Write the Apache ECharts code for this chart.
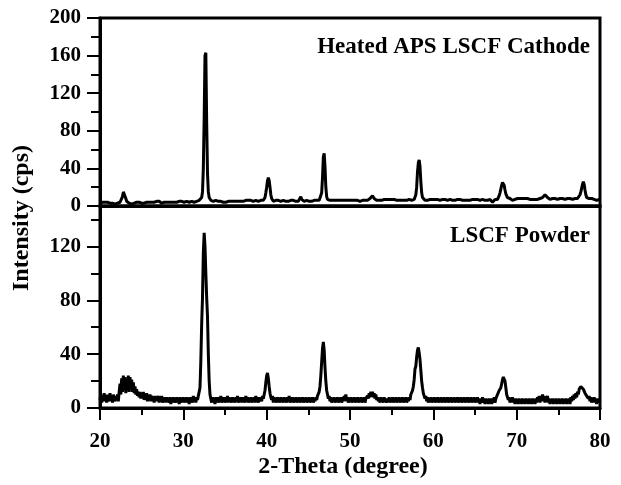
<!DOCTYPE html>
<html>
<head>
<meta charset="utf-8">
<script src="https://cdn.jsdelivr.net/npm/echarts@6/dist/echarts.min.js"></script>
<style>
html,body{margin:0;padding:0;background:#fff;}
#chart{width:621px;height:485px;}
</style>
</head>
<body>
<div id="chart"></div>
<script>
// 2-Theta sampling: start 20, step 0.1 degree, one row per degree
const startDeg = 20;
const stepDeg = 0.1;
const xTicks = [20, 30, 40, 50, 60, 70, 80];
const yTicksTop = [0, 40, 80, 120, 160, 200];
const yTicksBottom = [0, 40, 80, 120];
const labelTop = 'Heated APS LSCF Cathode';
const labelBottom = 'LSCF Powder';

// Heated APS LSCF Cathode intensity (cps), rows 20..79 (10 values each), then 80.0
const heatedRows = [
[3,4,3,4,3,2,4,3,3,4],
[3,4,3,3,4,3,4,3,2,3],
[4,3,4,3,4,3,5,10,15,16],
[13,8,5,3,4,3,4,3,2,3],
[1,3,4,3,4,4,3,4,3,4],
[3,4,4,3,4,5,4,3,4,4],
[4,3,4,5,4,4,3,4,5,4],
[4,5,4,4,3,4,5,4,4,5],
[4,4,5,4,5,4,4,5,4,4],
[5,4,4,5,4,5,4,5,5,4],
[5,4,5,4,5,6,5,4,5,5],
[5,6,5,4,5,6,5,5,6,6],
[6,7,9,15,40,93,160,163,90,35],
[15,9,7,6,5,6,5,6,5,6],
[5,6,5,5,6,5,6,5,4,5],
[5,4,5,6,5,5,6,5,4,5],
[5,5,6,5,5,4,5,6,5,5],
[6,5,5,6,5,6,5,5,6,5],
[5,6,5,6,5,4,5,6,5,6],
[5,6,5,6,5,6,6,7,9,14],
[20,27,30,27,20,12,8,6,5,6],
[5,6,5,5,6,5,6,5,6,5],
[6,5,6,5,5,6,5,6,5,6],
[5,6,6,5,6,5,6,6,5,6],
[7,10,7,5,6,5,6,5,6,5],
[6,5,6,6,5,6,5,6,6,5],
[6,5,6,6,6,8,14,30,52,56],
[42,20,10,7,6,5,6,5,6,6],
[5,6,6,5,6,6,5,6,6,5],
[6,6,5,6,6,5,6,6,5,6],
[6,5,6,6,6,5,6,6,5,6],
[6,6,5,6,6,6,5,6,6,6],
[6,6,6,7,8,9,10,11,10,8],
[7,7,6,7,6,6,7,6,6,6],
[6,7,6,6,7,6,6,7,6,6],
[7,6,6,7,6,7,6,6,7,6],
[6,7,6,6,7,6,7,6,6,7],
[6,7,6,7,6,6,7,7,8,12],
[20,36,46,49,42,26,14,9,7,7],
[6,7,7,6,7,6,7,7,6,7],
[7,6,7,7,6,7,6,7,6,7],
[6,7,6,7,7,6,7,6,7,6],
[7,6,7,6,7,7,6,7,6,7],
[6,7,7,6,7,6,7,7,6,7],
[7,6,7,6,6,7,6,7,7,6],
[7,6,7,7,6,7,6,7,6,7],
[6,7,6,7,7,6,7,6,7,6],
[6,4,6,6,7,6,7,7,9,11],
[14,18,22,25,25,22,17,13,11,9],
[8,7,8,7,7,6,7,8,7,7],
[7,8,7,7,8,7,7,8,7,7],
[8,7,7,8,7,8,7,7,8,7],
[7,8,7,8,8,7,8,9,8,8],
[8,9,10,11,12,11,10,9,8,8],
[7,8,7,8,7,7,8,7,8,7],
[8,7,8,7,7,8,7,8,7,8],
[7,8,7,8,8,7,8,7,8,7],
[8,7,8,8,9,10,12,15,19,23],
[26,23,17,12,9,8,7,8,7,7],
[8,7,8,7,7,8,6,7,6,7],
[6]
];

// LSCF Powder intensity (cps), rows 20..79 (10 values each), then 80.0
const powderRows = [
[6,10,4,9,5,11,6,8,4,10],
[7,5,11,6,9,4,10,7,5,9],
[6,10,5,12,18,10,22,12,24,14],
[23,11,20,13,24,12,23,14,21,12],
[19,11,16,10,14,9,12,8,12,7],
[11,7,12,6,10,7,11,5,9,6],
[10,5,9,6,8,4,9,5,8,6],
[9,4,8,5,9,4,7,5,8,4],
[8,5,7,4,8,3,7,5,8,4],
[7,4,8,5,7,3,8,4,7,5],
[8,4,7,5,8,4,7,3,8,5],
[7,4,9,5,8,4,8,6,9,8],
[15,35,62,82,115,130,120,100,82,68],
[40,20,10,7,4,8,5,7,3,8],
[5,8,4,7,5,9,4,7,5,8],
[4,7,5,9,4,8,5,7,4,8],
[5,7,4,8,5,9,4,7,5,8],
[4,8,5,7,4,9,5,8,4,7],
[5,8,4,7,5,8,4,9,5,7],
[4,8,5,7,5,9,7,10,13,19],
[24,26,22,16,11,8,6,9,4,8],
[5,7,4,8,5,7,4,8,5,7],
[4,8,5,7,4,8,5,9,4,7],
[5,8,4,7,5,8,4,7,5,8],
[4,7,5,8,4,7,5,8,4,7],
[5,8,4,7,5,8,4,7,5,8],
[6,9,8,12,16,24,34,44,49,43],
[30,20,13,10,7,9,5,8,4,7],
[5,8,4,7,5,8,4,7,5,8],
[4,7,5,9,6,10,5,8,4,7],
[5,8,4,7,5,8,4,7,5,8],
[4,7,5,8,4,7,5,8,4,7],
[6,9,7,11,8,12,9,12,8,11],
[7,10,6,8,5,7,4,8,5,7],
[4,8,5,7,4,7,5,8,4,7],
[5,8,4,7,5,8,4,7,5,8],
[4,7,5,8,4,7,5,8,4,7],
[5,8,6,10,9,13,16,21,29,31],
[38,43,45,41,36,28,20,15,11,9],
[7,9,5,8,4,7,5,8,4,7],
[5,8,4,7,5,8,4,7,5,8],
[4,7,5,8,4,7,5,8,4,7],
[5,8,4,7,5,8,4,7,5,8],
[4,7,5,8,4,7,5,8,4,7],
[5,8,4,7,5,8,4,7,5,8],
[4,7,5,8,4,7,3,7,4,8],
[4,7,3,7,4,6,3,7,4,7],
[3,6,4,8,4,7,6,10,9,13],
[12,15,18,21,23,24,20,15,10,8],
[6,8,4,7,5,8,4,6,3,7],
[4,6,3,7,4,6,3,7,4,6],
[3,7,4,6,3,7,4,6,3,7],
[4,6,3,7,4,8,5,9,4,8],
[6,10,5,9,4,8,6,9,4,7],
[3,6,4,7,3,6,4,7,3,6],
[4,7,3,6,4,7,3,6,4,7],
[3,6,4,7,3,8,5,9,6,10],
[7,11,8,12,10,14,13,16,15,17],
[14,15,11,12,9,10,7,9,5,8],
[4,7,5,8,4,6,3,7,4,6],
[5]
];

function toPairs(rows) {
  const flat = [].concat(...rows);
  return flat.map((v, i) => [Math.round((startDeg + i * stepDeg) * 10) / 10, v]);
}

const FONT = '"Liberation Serif", "Times New Roman", serif';
const labelStyle = { fontFamily: FONT, fontWeight: 'bold', fontSize: 21, color: '#000' };
const black = '#000';

const chart = echarts.init(document.getElementById('chart'), null, { renderer: 'canvas' });
chart.setOption({
  animation: false,
  backgroundColor: '#fff',
  grid: [
    { left: 100, top: 18, width: 500, height: 188, show: true, borderColor: black, borderWidth: 3, backgroundColor: 'transparent' },
    { left: 100, top: 206, width: 500, height: 202, show: true, borderColor: black, borderWidth: 3, backgroundColor: 'transparent' }
  ],
  xAxis: [
    { type: 'value', gridIndex: 0, min: xTicks[0], max: xTicks[xTicks.length - 1], interval: 10,
      axisLine: { show: true, lineStyle: { color: black, width: 3 } },
      axisTick: { show: false }, axisLabel: { show: false }, splitLine: { show: false } },
    { type: 'value', gridIndex: 1, min: xTicks[0], max: xTicks[xTicks.length - 1], interval: 10,
      axisLine: { show: true, onZero: false, lineStyle: { color: black, width: 3 } },
      axisTick: { show: true, inside: false, length: 12, lineStyle: { color: black, width: 2 } },
      minorTick: { show: true, splitNumber: 2, length: 7, lineStyle: { color: black, width: 2 } },
      axisLabel: Object.assign({ margin: 23 }, labelStyle),
      splitLine: { show: false } }
  ],
  yAxis: [
    { type: 'value', gridIndex: 0, position: 'left', min: 0, max: 200, interval: 40,
      axisLine: { show: true, onZero: false, lineStyle: { color: black, width: 3 } },
      axisTick: { show: true, length: 13, lineStyle: { color: black, width: 2 } },
      minorTick: { show: true, splitNumber: 2, length: 9, lineStyle: { color: black, width: 2 } },
      axisLabel: Object.assign({ margin: 19 }, labelStyle),
      splitLine: { show: false } },
    { type: 'value', gridIndex: 1, position: 'left', min: 0, max: 150, interval: 40,
      axisLine: { show: true, onZero: false, lineStyle: { color: black, width: 3 } },
      axisTick: { show: true, length: 13, lineStyle: { color: black, width: 2 } },
      axisLabel: Object.assign({ margin: 19, showMaxLabel: false }, labelStyle),
      splitLine: { show: false } },
    { type: 'value', gridIndex: 1, position: 'left', offset: 0, min: 0, max: 150, interval: 20,
      axisLine: { show: false },
      axisTick: { show: true, length: 9, lineStyle: { color: black, width: 2 } },
      axisLabel: { show: false },
      splitLine: { show: false } }
  ],
  series: [
    { name: labelTop, type: 'line', xAxisIndex: 0, yAxisIndex: 0, data: toPairs(heatedRows),
      showSymbol: false, symbol: 'none', lineStyle: { color: black, width: 3 }, clip: true },
    { name: labelBottom, type: 'line', xAxisIndex: 1, yAxisIndex: 1, data: toPairs(powderRows),
      showSymbol: false, symbol: 'none', lineStyle: { color: black, width: 3 }, clip: true }
  ],
  graphic: [
    { type: 'text', right: 31, top: 36, style: { text: labelTop, font: 'bold 23px ' + FONT, fill: black } },
    { type: 'text', right: 31, top: 225, style: { text: labelBottom, font: 'bold 23px ' + FONT, fill: black } },
    { type: 'text', x: 343, y: 467, style: { text: '2-Theta (degree)', font: 'bold 24px ' + FONT, fill: black, align: 'center', verticalAlign: 'middle' } },
    { type: 'text', x: 22, y: 218, rotation: Math.PI / 2,
      style: { text: 'Intensity (cps)', font: 'bold 24px ' + FONT, fill: black, align: 'center', verticalAlign: 'middle' } }
  ]
});
</script>
</body>
</html>
